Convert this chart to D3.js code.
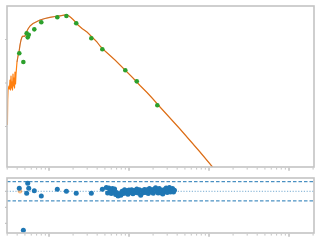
<!DOCTYPE html>
<html>
<head>
<meta charset="utf-8">
<script src="https://cdn.jsdelivr.net/npm/d3@7"></script>
<style>
  html, body { margin: 0; padding: 0; background: #fff; }
  svg { display: block; }
</style>
</head>
<body>
<div id="chart"></div>
<script>
// model spectrum (wavelength in micron, lambda F_lambda)
const modelLam = [0.302, 0.3045, 0.3073, 0.3118, 0.3162, 0.3208, 0.3255, 0.3302, 0.335, 0.3398,
  0.3447, 0.3497, 0.3548, 0.36, 0.3652, 0.3705, 0.3758, 0.3813, 0.3868, 0.3924, 0.3981, 0.4097,
  0.4217, 0.434, 0.4467, 0.4597, 0.4732, 0.487, 0.5012, 0.5158, 0.5309, 0.5464, 0.5788, 0.631,
  0.6877, 0.772, 0.8913, 1.029, 1.189, 1.372, 1.54, 1.679, 1.778, 1.939, 2.113, 2.304, 2.585,
  2.985, 3.447, 3.981, 4.34, 5.012, 5.788, 6.683, 7.718, 8.913, 11.22, 13.72, 16.79, 19.95,
  24.4, 32.55, 43.4, 57.88, 77.18, 110.6, 137.2];
const modelFlux = [1.082e-14, 4.066e-14, 6.903e-14, 7.675e-14, 8.531e-14, 7.28e-14, 1.172e-13,
  6.903e-14, 1.448e-13, 7.675e-14, 1.054e-13, 6.903e-14, 1.61e-13, 8.531e-14, 1.302e-13,
  7.675e-14, 1.79e-13, 9.484e-14, 1.61e-13, 2.212e-13, 3.039e-13, 4.175e-13, 5.161e-13,
  7.472e-13, 9.739e-13, 1.141e-12, 1.204e-12, 1.172e-12, 1.204e-12, 1.411e-12, 1.568e-12,
  1.743e-12, 2.043e-12, 2.332e-12, 2.525e-12, 2.807e-12, 3.04e-12, 3.238e-12, 3.379e-12,
  3.506e-12, 3.619e-12, 3.658e-12, 3.469e-12, 3.04e-12, 2.593e-12, 2.154e-12, 1.79e-12,
  1.487e-12, 1.141e-12, 8.76e-13, 7.087e-13, 5.441e-13, 4.287e-13, 3.379e-13, 2.594e-13,
  1.99e-13, 1.302e-13, 8.762e-14, 6.047e-14, 4.287e-14, 2.807e-14, 1.568e-14, 8.762e-15,
  4.766e-15, 2.594e-15, 1.172e-15, 7.28e-16];

// photometry
const photLam = [0.425, 0.478, 0.526, 0.542, 0.558, 0.655, 0.801, 1.27, 1.65, 2.19, 3.38, 4.64, 8.99, 12.5, 22.6];
const photFlux = [4.82e-13, 3.04e-13, 1.39e-12, 1.12e-12, 1.29e-12, 1.71e-12, 2.49e-12, 3.24e-12,
  3.47e-12, 2.36e-12, 1.07e-12, 5.95e-13, 1.96e-13, 1.09e-13, 3.07e-14];
const photResid = [0.19, -2.44, -0.125, 0.5, 0.19, 0.04, -0.29, 0.125, 0, -0.125, -0.125, 0.125, 0.02, -0.03, 0.05];

// excluded point
const excludedLam = [0.434];
const excludedResid = [0];

// spectrum residuals
const specLam = [5.2, 5.4, 5.6, 5.8, 6.0, 6.2, 6.4, 6.6, 6.8, 7.0, 7.3, 7.6, 7.9, 8.2, 8.5, 8.8, 9.1,
  9.4, 9.7, 10.0, 10.4, 10.8, 11.2, 11.6, 12.0, 12.5, 13.0, 13.5, 14.0, 14.5, 15.0, 15.6, 16.2,
  16.8, 17.4, 18.0, 18.7, 19.4, 20.1, 20.8, 21.5, 22.3, 23.1, 23.9, 24.7, 25.5, 26.4, 27.3, 28.2,
  29.1, 30.0, 31.0, 32.0, 33.0, 34.0, 35.0, 36.0, 37.0];
const specResid = [0.24, -0.1, 0.2, 0.02, -0.14, 0.18, -0.04, 0.14, -0.2, -0.08, -0.3, -0.16, -0.24,
  0.0, -0.14, 0.1, -0.1, 0.04, -0.18, 0.08, -0.08, 0.1, -0.16, 0.05, -0.07, 0.14, -0.1, 0.09,
  -0.24, 0.04, -0.09, 0.12, -0.07, 0.1, -0.14, 0.17, -0.04, 0.09, -0.12, 0.14, 0.22, 0.0, -0.1,
  0.17, -0.09, 0.07, -0.17, 0.1, 0.0, 0.2, -0.07, 0.15, 0.24, -0.05, 0.1, 0.17, -0.04, 0.07];

const topYTicks = [1e-12, 1e-13, 1e-14];
const residYTicks = [0, -1, -2];
const residBands = [0.6, -0.6];

const width = 320;
const height = 240;
const left = 7, right = 314;
const top1 = 6, bottom1 = 167;
const top2 = 178, bottom2 = 233;
const spine = "#c4c4c4";

const svg = d3.select("#chart")
  .append("svg")
  .attr("width", width)
  .attr("height", height)
  .attr("viewBox", [0, 0, width, height]);

const x = d3.scaleLog().domain([0.2985, 2053]).range([left, right]);
const yTop = d3.scaleLog().domain([10 ** -14.931, 10 ** -11.23]).range([bottom1, top1]);
const yRes = d3.scaleLinear().domain([-2.606, 0.831]).range([bottom2, top2]);

// x ticks: major decades plus minor
const xMinor = [];
for (let e = -1; e <= 3; e++) {
  for (let k = 1; k <= 9; k++) {
    const v = k * 10 ** e;
    if (v >= x.domain()[0] && v <= x.domain()[1]) xMinor.push(v);
  }
}

svg.append("defs").append("clipPath").attr("id", "clip1")
  .append("rect").attr("x", left).attr("y", top1)
  .attr("width", right - left).attr("height", bottom1 - top1);
svg.select("defs").append("clipPath").attr("id", "clip2")
  .append("rect").attr("x", left).attr("y", top2)
  .attr("width", right - left).attr("height", bottom2 - top2);

function drawXTicks(yPos) {
  svg.append("g")
    .selectAll("line")
    .data(xMinor)
    .join("line")
    .attr("x1", (d) => x(d))
    .attr("x2", (d) => x(d))
    .attr("y1", yPos)
    .attr("y2", (d) => yPos + (Math.abs(Math.log10(d) % 1) < 1e-6 ? 3 : 1.8))
    .attr("stroke", spine)
    .attr("stroke-width", (d) => (Math.abs(Math.log10(d) % 1) < 1e-6 ? 1.6 : 1));
}

function drawYTicks(scale, values) {
  svg.append("g")
    .selectAll("line")
    .data(values)
    .join("line")
    .attr("x1", left - 2)
    .attr("x2", left)
    .attr("y1", (d) => scale(d))
    .attr("y2", (d) => scale(d))
    .attr("stroke", spine)
    .attr("stroke-width", 1.2);
}

// top panel
const line = d3.line()
  .x((d) => x(d[0]))
  .y((d) => yTop(d[1]));

const g1 = svg.append("g").attr("clip-path", "url(#clip1)");
g1.append("path")
  .datum(d3.zip(modelLam, modelFlux))
  .attr("fill", "none")
  .attr("stroke", "#ff7f0e")
  .attr("stroke-width", 1.2)
  .attr("stroke-linejoin", "round")
  .attr("d", line);
g1.append("path")
  .datum(d3.zip(modelLam, modelFlux).slice(20))
  .attr("fill", "none")
  .attr("stroke", "#8c564b")
  .attr("stroke-opacity", 0.6)
  .attr("stroke-width", 0.8)
  .attr("d", line);
g1.append("g")
  .selectAll("circle")
  .data(d3.zip(photLam, photFlux))
  .join("circle")
  .attr("cx", (d) => x(d[0]))
  .attr("cy", (d) => yTop(d[1]))
  .attr("r", 2.3)
  .attr("fill", "#2ca02c");

svg.append("rect")
  .attr("x", left).attr("y", top1)
  .attr("width", right - left).attr("height", bottom1 - top1)
  .attr("fill", "none").attr("stroke", spine).attr("stroke-width", 1.6);
drawXTicks(bottom1 + 0.8);
drawYTicks(yTop, topYTicks);

// residual panel
const g2 = svg.append("g").attr("clip-path", "url(#clip2)");
g2.selectAll(".band")
  .data(residBands)
  .join("line")
  .attr("x1", left).attr("x2", right)
  .attr("y1", (d) => yRes(d)).attr("y2", (d) => yRes(d))
  .attr("stroke", "#1f77b4")
  .attr("stroke-width", 1)
  .attr("stroke-dasharray", "3.5,2");
g2.append("line")
  .attr("x1", left).attr("x2", right)
  .attr("y1", yRes(0)).attr("y2", yRes(0))
  .attr("stroke", "#1f77b4")
  .attr("stroke-opacity", 0.6)
  .attr("stroke-width", 1)
  .attr("stroke-dasharray", "1.2,1.6");

g2.append("g")
  .selectAll("circle")
  .data(d3.zip(excludedLam, excludedResid))
  .join("circle")
  .attr("cx", (d) => x(d[0]))
  .attr("cy", (d) => yRes(d[1]))
  .attr("r", 2.3)
  .attr("fill", "#ff7f0e")
  .attr("fill-opacity", 0.5);
g2.append("g")
  .selectAll("circle")
  .data(d3.zip(photLam, photResid).concat(d3.zip(specLam, specResid)))
  .join("circle")
  .attr("cx", (d) => x(d[0]))
  .attr("cy", (d) => yRes(d[1]))
  .attr("r", 2.5)
  .attr("fill", "#1f77b4");

svg.append("rect")
  .attr("x", left).attr("y", top2)
  .attr("width", right - left).attr("height", bottom2 - top2)
  .attr("fill", "none").attr("stroke", spine).attr("stroke-width", 1.6);
drawXTicks(bottom2 + 0.8);
drawYTicks(yRes, residYTicks);
</script>
</body>
</html>
